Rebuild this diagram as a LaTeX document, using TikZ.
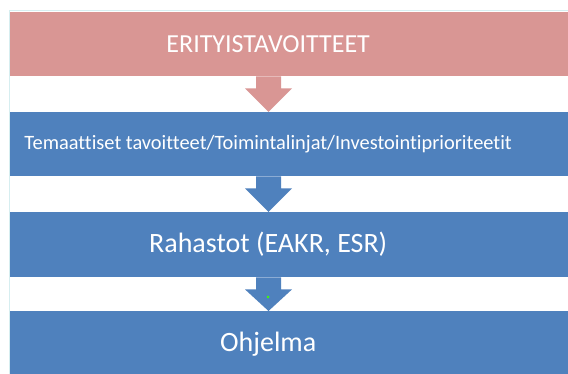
\documentclass[tikz,border=0pt]{standalone}
\usepackage{fontspec}
\setmainfont{Carlito}[Ligatures=NoCommon]
\usepackage{tikz}
\usepackage{xcolor}
\usetikzlibrary{
    calc,
    positioning
}

\definecolor{rowpink}{HTML}{D99694}
\definecolor{rowblue}{HTML}{4F81BD}
\definecolor{framecyan}{HTML}{D6EEF0}

\tikzset{
    rowbox/.style={fill=#1, text=white, inner xsep=0pt, inner ysep=0pt,
        minimum height=64pt, anchor=north west,
        execute at begin node=\hbox to 516pt\bgroup\hss,
        execute at end node=\hss\egroup\kern60pt}
}

\newcommand{\rowarrow}[3]{
    \fill[#1]
    ($(#2.south west)+(246, 0)$) -- ++(25, 0) -- ++(0, 12) -- ++(11, 0)
    -- ($(#3.north west)+(258.5, 0)$)
    -- ($(#2.south west)+(235, 12)$) -- ++(11, 0) -- cycle;
}

\begin{document}
\begin{tikzpicture}[x=1pt, y=-1pt]
    \useasboundingbox (0, 0) rectangle (568, 374);
    \fill[white] (0, 0) rectangle (568, 374);

    \draw[framecyan, line width=0.8pt] (9, 374) -- (9, 10) -- (568, 10);

    \node[rowbox=rowpink, font=\fontsize{26}{30}\selectfont] (goals) at (10, 12) {ERITYISTAVOITTEET};
    \node[rowbox=rowblue, font=\fontsize{20.4}{24}\selectfont] (themes) at (10, 112) {Temaattiset tavoitteet/Toimintalinjat/Investointiprioriteetit};
    \node[rowbox=rowblue, minimum height=65pt, font=\fontsize{28}{32}\selectfont] (funds) at (10, 212) {Rahastot (EAKR, ESR)};
    \node[rowbox=rowblue, minimum height=65pt, font=\fontsize{28}{32}\selectfont] (programme) at (10, 311) {Ohjelma};

    \rowarrow{rowpink}{goals}{themes}
    \rowarrow{rowblue}{themes}{funds}
    \rowarrow{rowblue}{funds}{programme}

    \fill[green!75!yellow] (268, 297) circle (1.4pt);
\end{tikzpicture}
\end{document}
